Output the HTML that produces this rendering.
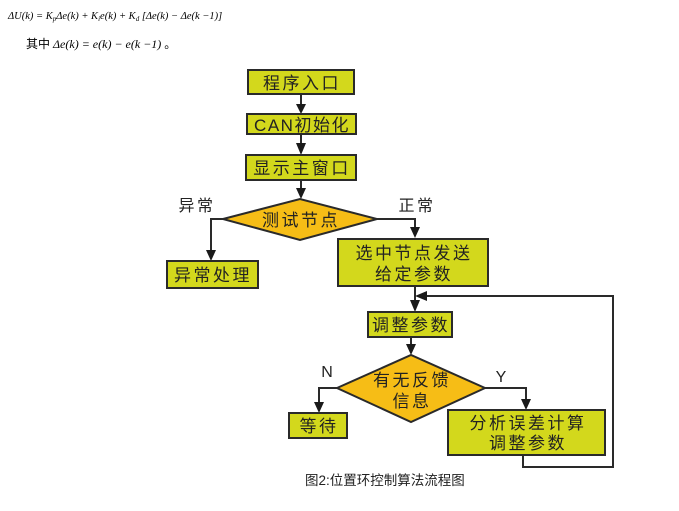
<!DOCTYPE html>
<html><head><meta charset="utf-8"><style>
html,body{margin:0;padding:0;background:#fff;}
svg{display:block}
.t{font-family:"Liberation Sans","Noto Sans CJK SC",sans-serif;fill:#222;}
</style></head><body>
<svg width="679" height="511" viewBox="0 0 679 511" xmlns="http://www.w3.org/2000/svg">
<!-- formula -->
<text x="8" y="19" font-family="Liberation Serif,serif" font-style="italic" font-size="10.5" fill="#000">ΔU(k) = K<tspan font-size="7" dy="2">p</tspan><tspan dy="-2">Δe(k) + K</tspan><tspan font-size="7" dy="2">i</tspan><tspan dy="-2">e(k) + K</tspan><tspan font-size="7" dy="2">d</tspan><tspan dy="-2"> [Δe(k) − Δe(k −1)]</tspan></text>
<text x="26" y="48" font-family="Liberation Serif,'Noto Sans CJK SC',serif" font-size="12" fill="#000">其中 <tspan font-style="italic">Δe(k) = e(k) − e(k −1)</tspan> 。</text>

<g stroke="#2a2a2a" stroke-width="2" fill="none">
<line x1="301" y1="94" x2="301" y2="104"/>
<line x1="301" y1="134" x2="301" y2="146"/>
<line x1="301" y1="180" x2="301" y2="190"/>
<polyline points="223,219 211,219 211,252"/>
<polyline points="377,219 415,219 415,229"/>
<line x1="415" y1="286" x2="415" y2="303"/>
<line x1="411" y1="337" x2="411" y2="346"/>
<polyline points="337,388 319,388 319,404"/>
<polyline points="485,388 526,388 526,401"/>
<polyline points="523,455 523,467 613,467 613,296 425,296"/>
</g>
<g fill="#1a1a1a">
<polygon points="296,104 306,104 301,114"/>
<polygon points="296,143 306,143 301,155"/>
<polygon points="296,188 306,188 301,199"/>
<polygon points="206,250 216,250 211,261"/>
<polygon points="410,227 420,227 415,238"/>
<polygon points="410,300 420,300 415,312"/>
<polygon points="406,344 416,344 411,355"/>
<polygon points="314,402 324,402 319,413"/>
<polygon points="521,399 531,399 526,410"/>
<polygon points="427,291 427,301 415,296"/>
</g>

<g fill="#d3d81c" stroke="#2a2a2a" stroke-width="2">
<rect x="248" y="70" width="106" height="24"/>
<rect x="247" y="114" width="109" height="20"/>
<rect x="246" y="155" width="110" height="25"/>
<rect x="167" y="261" width="91" height="27"/>
<rect x="338" y="239" width="150" height="47"/>
<rect x="368" y="312" width="84" height="25"/>
<rect x="289" y="413" width="58" height="25"/>
<rect x="448" y="410" width="157" height="45"/>
</g>
<g fill="#f6bd16" stroke="#2a2a2a" stroke-width="2">
<polygon points="223,219 300,199 377,219 300,240"/>
<polygon points="337,388 411,355 485,388 411,422"/>
</g>

<g class="t" font-size="17" text-anchor="middle" letter-spacing="2.5">
<text x="302" y="89">程序入口</text>
<text x="302" y="131" letter-spacing="1.5">CAN初始化</text>
<text x="302" y="174">显示主窗口</text>
<text x="301" y="226">测试节点</text>
<text x="213" y="281">异常处理</text>
<text x="414" y="259">选中节点发送</text>
<text x="414" y="280">给定参数</text>
<text x="411" y="331">调整参数</text>
<text x="412" y="386">有无反馈</text>
<text x="412" y="407">信息</text>
<text x="319" y="432">等待</text>
<text x="528" y="429">分析误差计算</text>
<text x="528" y="449">调整参数</text>
<text x="197" y="211" font-size="16">异常</text>
<text x="417" y="211" font-size="16">正常</text>
<text x="327" y="377" font-size="16" letter-spacing="0">N</text>
<text x="501" y="382" font-size="16" letter-spacing="0">Y</text>
</g>
<text class="t" x="305" y="485" font-size="13.5" fill="#222">图2:位置环控制算法流程图</text>
</svg>
</body></html>
